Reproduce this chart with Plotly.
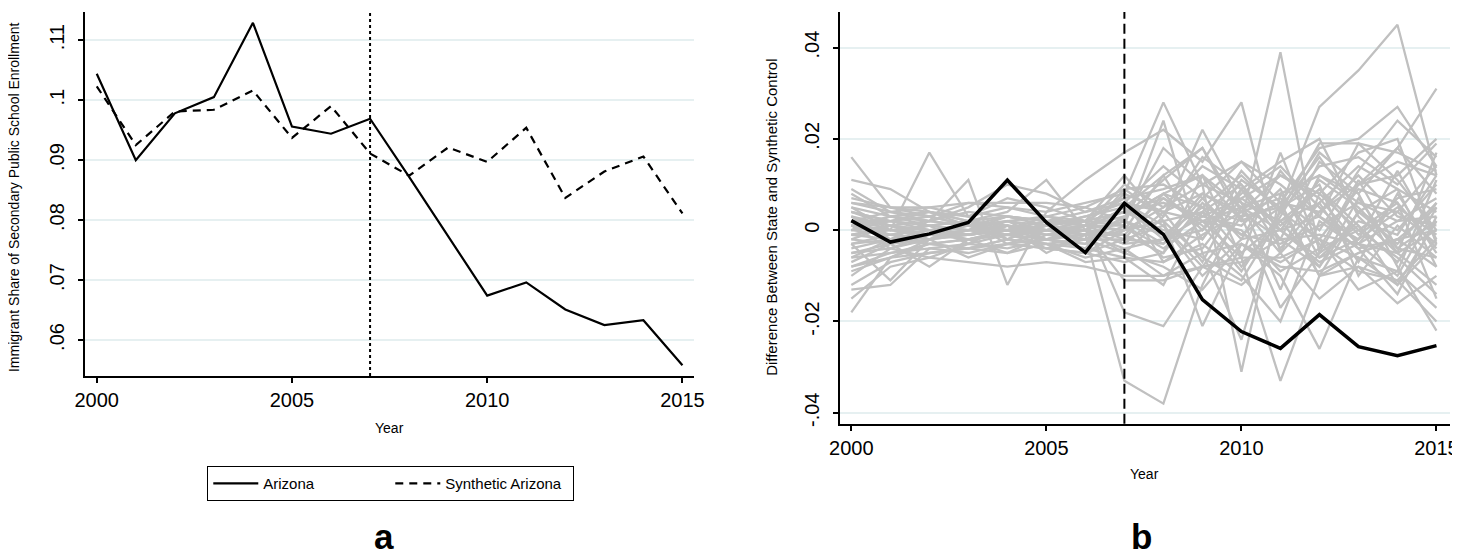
import plotly.graph_objects as go

FONT = "Arial, Liberation Sans, Helvetica, sans-serif"

years = list(range(2000, 2016))

arizona = [0.1044, 0.0900, 0.0978, 0.1005, 0.1129, 0.0956, 0.0944, 0.0969,
           0.0872, 0.0772, 0.0674, 0.0696, 0.0651, 0.0625, 0.0633, 0.0558]
synthetic_arizona = [0.1023, 0.0925, 0.0981, 0.0984, 0.1016, 0.0937, 0.0990, 0.0911,
                     0.0874, 0.0921, 0.0897, 0.0954, 0.0837, 0.0881, 0.0906, 0.0811]

arizona_gap = [0.0021, -0.0026, -0.0008, 0.0017, 0.0110, 0.0017, -0.0049, 0.0059,
               -0.0009, -0.0152, -0.0222, -0.0259, -0.0185, -0.0255, -0.0275, -0.0253]

# placebo gaps for the other states, in thousandths
placebo_gaps_thousandths = [
    [16, 5, 3, 1, 2, 0, 1, 3, 8, 5, 2, 6, 4, 10, 12, 20],
    [-18, -6, -3, -2, 0, 1, -1, -4, -10, -8, -12, -5, -15, -8, -11, -20],
    [11, 9, 4, 2, 1, -2, 0, 8, 28, 10, 15, 6, 18, 20, 27, 14],
    [-13, -12, -4, -3, -1, 0, 2, -18, -21, -8, -6, -33, -10, -5, -2, 5],
    [5, 0, 17, 3, -2, 1, 0, 5, 12, 18, 2, 39, -5, 10, 15, 12],
    [0, 3, 2, 11, -12, 4, 11, 17, 22, 15, 28, -5, 12, 8, 18, 31],
    [-2, -3, -1, 0, 1, 0, -1, -33, -38, -12, 5, 0, 3, -4, -2, 0],
    [3, 1, 0, -2, 0, 2, -5, 0, 5, 10, -31, 8, 12, 6, 4, -3],
    [-5, -4, -6, -7, -8, -7, -8, -10, -10, -5, -3, -7, -2, -6, -9, -17],
    [6, 5, 5, 6, 6, 6, 5, 9, 10, 5, 12, 4, 19, 19, 17, 13],
    [1, 2, 0, -1, 2, 1, 3, 6, 4, 8, 3, 5, 27, 35, 45, 12],
    [-8, -5, -3, -4, -2, -3, -4, -6, -12, 4, 10, -2, 15, 8, -8, -22],
    [4, 2, 1, 0, 3, 2, 2, 12, 2, -21, -3, -10, -26, -6, -12, 2],
    [-10, -4, -2, -6, -3, -2, -3, 1, 24, -5, -24, 5, -10, 4, 9, -8],
    [8, 3, 4, 2, 4, 11, 0, -5, 3, 22, 6, -13, 8, 17, 20, -3],
    [-3, -11, -2, -1, 0, -4, -5, -2, 8, 0, 13, 4, 14, 16, 10, 19],
    [1, 0, -1, -1, 0, 1, 2, 4, 6, 3, 7, 12, 8, 0, -6, -14],
    [-7, -3, -8, -2, -1, -3, -7, -6, -7, -3, -10, -20, 2, -4, -14, 3],
    [4, 2, 3, 1, 2, 3, 1, 10, 5, 14, 9, 15, 20, 3, -5, 0],
    [0, -1, 0, 1, 0, -1, 0, -11, -11, -8, -7, -2, -1, -3, -5, -12],
    [-4, -2, -3, -2, -1, -2, -3, 3, 11, 18, 4, 7, 0, 13, 24, 16],
    [6, 4, 5, 3, 5, 4, 6, 8, 4, 2, -6, -6, -2, -13, -9, 11],
    [-1, 0, 1, -3, 1, -5, -1, 2, -3, 7, 15, 10, 3, -2, 13, -2],
    [2, 2, 1, 2, 3, 2, 1, -2, 1, -8, 3, -17, -5, 1, -7, 6],
    [-6, -5, -4, -5, -3, -4, -5, -7, -5, 12, 2, 6, -10, -8, -16, -10],
    [9, 4, 2, 1, 0, 1, 3, 5, -2, 0, 8, 14, 5, -3, 2, 7],
    [-12, -7, -5, -4, -2, -3, -2, 0, 2, -6, -11, 3, 17, 10, 18, 8],
    [3, -2, 2, 5, 10, 8, 4, 6, 14, 7, -2, 0, 11, 5, -4, -6],
    [-2, 1, -1, 0, -1, 0, 1, 1, -4, 2, 5, -5, 4, 12, 3, 1],
    [5, 3, 2, 4, 3, 2, 4, 7, 9, 12, 5, 8, -3, -9, -11, -2],
    [-9, -6, -5, -4, -5, -3, -6, -4, -2, 3, 1, 9, -6, -2, 4, 14],
    [0, 2, 4, 1, 0, 3, 5, 2, 18, 10, 6, 2, 6, 14, 9, 4],
    [-3, -2, -3, -4, -3, -4, -2, -5, -8, -13, -3, -8, -9, -5, -2, -8],
    [7, 5, 4, 3, 7, 5, 2, 4, 0, -2, 11, 5, 16, 4, 0, 10],
    [-5, -3, -2, -1, 0, -2, 1, 0, 2, 4, -1, -3, 1, 6, 2, 3],
    [1, -4, -1, -2, -5, -1, 0, -3, -2, 8, 4, 12, 7, -3, -10, 5],
    [-15, -8, -6, -3, -4, -2, -1, -1, 7, 1, -9, 4, -2, 9, 6, -4],
    [4, 1, -2, 2, -3, 0, -1, 9, 3, 16, 10, 0, -6, 2, -1, 12],
    [2, 4, 3, 6, 5, 3, 2, 1, -6, -4, 7, 1, 9, -1, 5, -1],
    [-8, -6, -2, 0, 2, -2, -4, 6, 1, -10, -2, 13, 3, 19, 11, 0],
    [-1, 1, 0, -1, 1, 0, -1, 2, -1, 5, -5, 2, -8, 4, -3, 6],
    [2, -1, 1, 0, -1, 1, 0, -3, 4, -7, 9, -4, 6, -7, 8, -5],
    [-3, -1, -2, 0, 1, -1, 1, 4, 7, 2, 0, -9, -4, 11, -4, 2],
    [0, 1, 2, 1, 3, 1, 0, -1, -5, 6, -1, 5, 10, -10, 1, -6],
    [3, 0, -1, 1, -2, 2, 1, 0, 12, -2, 9, 0, -7, -3, 7, 9],
    [-6, -2, 0, -1, 0, -1, -2, -2, -3, 4, -8, 2, 9, 1, -12, -3],
    [1, 3, 1, 2, 1, 0, 2, 7, -7, -1, 4, -2, -8, 7, -5, 17],
    [-1, -2, -1, -1, 0, 0, -2, 3, 8, 12, -6, 17, -4, 0, 6, -15],
]

treatment_year = 2007

left_yticks = [0.06, 0.07, 0.08, 0.09, 0.10, 0.11]
left_yticktext = [".06", ".07", ".08", ".09", ".1", ".11"]
right_yticks = [-0.04, -0.02, 0.0, 0.02, 0.04]
right_yticktext = ["-.04", "-.02", "0", ".02", ".04"]
xticks = [2000, 2005, 2010, 2015]

W, H = 1460, 555
GRID = "rgb(230,240,241)"

fig = go.Figure()

# Panel a
fig.add_trace(go.Scatter(x=years, y=arizona, mode="lines", name="Arizona",
                         line=dict(color="black", width=2.2), xaxis="x", yaxis="y"))
fig.add_trace(go.Scatter(x=years, y=synthetic_arizona, mode="lines", name="Synthetic Arizona",
                         line=dict(color="black", width=2.2, dash="8px,6px"), xaxis="x", yaxis="y"))

# Panel b
for row in placebo_gaps_thousandths:
    fig.add_trace(go.Scatter(x=years, y=[v / 1000 for v in row], mode="lines",
                             line=dict(color="rgb(192,192,192)", width=2.3),
                             showlegend=False, hoverinfo="skip", xaxis="x2", yaxis="y2"))
fig.add_trace(go.Scatter(x=years, y=arizona_gap, mode="lines", line=dict(color="black", width=3.5),
                         showlegend=False, xaxis="x2", yaxis="y2"))

fig.add_shape(type="line", xref="x", yref="y domain", x0=treatment_year, x1=treatment_year, y0=0, y1=1,
              line=dict(color="black", width=2, dash="3px,3px"))
fig.add_shape(type="line", xref="x2", yref="y2 domain", x0=treatment_year, x1=treatment_year, y0=0, y1=1,
              line=dict(color="black", width=2, dash="10px,5px"))

axis_common = dict(showline=True, linecolor="black", linewidth=2, ticks="outside", ticklen=5,
                   tickwidth=1.5, tickcolor="black", zeroline=False,
                   tickfont=dict(family=FONT, size=20, color="black"))

fig.update_layout(
    width=W, height=H,
    margin=dict(l=0, r=0, t=0, b=0),
    paper_bgcolor="white", plot_bgcolor="white",
    font=dict(family=FONT, color="black"),
    xaxis=dict(domain=[67 / W, 685 / W], range=[1999.70, 2015.30], tickvals=xticks,
               showgrid=False, anchor="y", **axis_common),
    yaxis=dict(domain=[1 - 370 / H, 1 - 4 / H], range=[0.0540, 0.1147], tickvals=left_yticks,
               ticktext=left_yticktext, tickangle=-90, showgrid=True, gridcolor=GRID, gridwidth=1.5,
               ticklabelstandoff=6, anchor="x", **axis_common),
    xaxis2=dict(domain=[833 / W, 1452 / W], range=[1999.71, 2015.35], tickvals=xticks,
                showgrid=False, anchor="y2", **axis_common),
    yaxis2=dict(domain=[1 - 418 / H, 1 - 4 / H], range=[-0.0424, 0.0478], tickvals=right_yticks,
                ticktext=right_yticktext, tickangle=-90, showgrid=True, gridcolor=GRID, gridwidth=1.5,
                ticklabelstandoff=6, anchor="x2", **axis_common),
    showlegend=True,
    legend=dict(orientation="h", x=377 / W, y=1 - 478 / H, xanchor="center", yanchor="middle",
                bordercolor="black", borderwidth=1.2, font=dict(family=FONT, size=15, color="black"),
                entrywidth=122, itemwidth=45, bgcolor="white"),
)

ann = [
    dict(text="Immigrant Share of Secondary Public School Enrollment", x=-5 / W, y=1 - 190 / H,
         textangle=-90, font=dict(size=14)),
    dict(text="Year", x=376 / W, y=1 - 422 / H, font=dict(size=14)),
    dict(text="Difference Between State and Synthetic Control", x=764 / W, y=1 - 211 / H,
         textangle=-90, font=dict(size=15)),
    dict(text="Year", x=1142 / W, y=1 - 469 / H, font=dict(size=14)),
    dict(text="<b>a</b>", x=370 / W, y=1 - 531 / H, font=dict(size=35)),
    dict(text="<b>b</b>", x=1139 / W, y=1 - 531 / H, font=dict(size=35)),
]
for a in ann:
    a.update(xref="paper", yref="paper", showarrow=False, xanchor="center", yanchor="middle")
    a["font"].update(family=FONT, color="black")
fig.update_layout(annotations=ann)

fig.write_html("out.html")
